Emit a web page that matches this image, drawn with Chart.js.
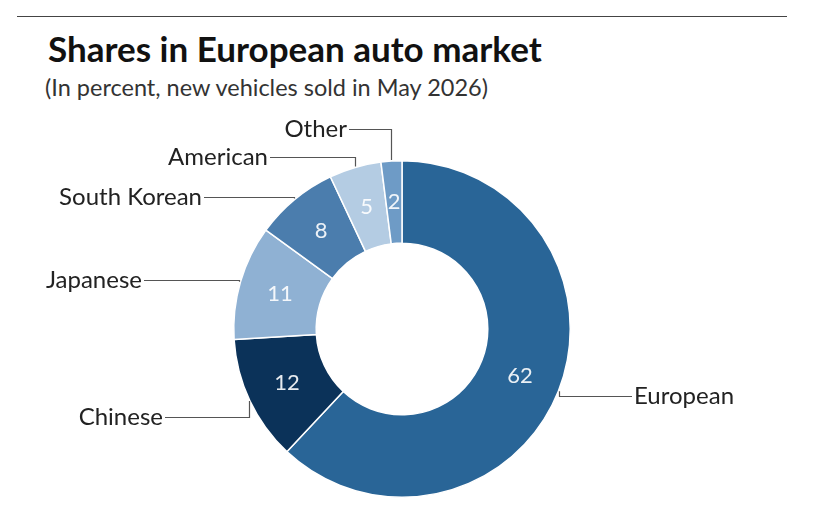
<!DOCTYPE html>
<html>
<head>
<meta charset="utf-8">
<script src="https://cdn.jsdelivr.net/npm/chart.js@4"></script>
<style>
  html, body { margin: 0; padding: 0; background: #fff; }
  body { width: 830px; height: 517px; position: relative; overflow: hidden; font-family: Lato, "Noto Sans", sans-serif; }
  .rule { position: absolute; left: 17px; top: 16px; width: 770px; height: 0; border-top: 1.5px solid #444; }
  h1 { position: absolute; left: 48px; top: 27px; margin: 0; font-size: 35px; font-weight: 700; color: #111; white-space: nowrap; }
  .sub { position: absolute; left: 45px; top: 73px; margin: 0; font-size: 23.5px; color: #333; white-space: nowrap; }
  #wrap { position: absolute; left: 0; top: 0; width: 830px; height: 517px; }
</style>
</head>
<body>
<div class="rule"></div>
<h1>Shares in European auto market</h1>
<div class="sub">(In percent, new vehicles sold in May 2026)</div>
<div id="wrap"><canvas id="donut"></canvas></div>
<script>
var categories = ["European", "Chinese", "Japanese", "South Korean", "American", "Other"];
var shares = [62, 12, 11, 8, 5, 2];
var colors = ["#296597", "#0b3259", "#8fb1d3", "#4b7dad", "#b4cce3", "#6e9bc6"];

// where each outside label sits: text anchor x, middle y, alignment
var labelPos = [
  { x: 634, y: 396, align: "left" },
  { x: 163, y: 417, align: "right" },
  { x: 142, y: 280, align: "right" },
  { x: 202, y: 197, align: "right" },
  { x: 268, y: 157, align: "right" },
  { x: 347, y: 129, align: "right" }
];

var calloutPlugin = {
  id: "callouts",
  afterDatasetsDraw: function (chart) {
    var ctx = chart.ctx;
    var meta = chart.getDatasetMeta(0);
    ctx.save();
    meta.data.forEach(function (arc, i) {
      var p = arc.getProps(["x", "y", "startAngle", "endAngle", "innerRadius", "outerRadius"], true);
      var mid = (p.startAngle + p.endAngle) / 2;
      // value inside ring
      var rMid = (p.innerRadius + p.outerRadius) / 2;
      ctx.fillStyle = "rgba(255,255,255,0.9)";
      ctx.font = "22px Lato, 'Noto Sans', sans-serif";
      ctx.textAlign = "center";
      ctx.textBaseline = "middle";
      ctx.fillText(String(shares[i]), p.x + Math.cos(mid) * rMid, p.y + Math.sin(mid) * rMid);

      // leader line
      var ax = p.x + Math.cos(mid) * (p.outerRadius + 1);
      var ay = p.y + Math.sin(mid) * (p.outerRadius + 1);
      var lp = labelPos[i];
      var endX = lp.align === "left" ? lp.x - 2 : lp.x + 2;
      ctx.strokeStyle = "#555";
      ctx.lineWidth = 1.2;
      ctx.beginPath();
      ctx.moveTo(Math.round(ax) + 0.5, ay);
      ctx.lineTo(Math.round(ax) + 0.5, Math.round(lp.y) + 0.5);
      ctx.lineTo(endX, Math.round(lp.y) + 0.5);
      ctx.stroke();

      ctx.fillStyle = "#222";
      ctx.font = "24px Lato, 'Noto Sans', sans-serif";
      ctx.textAlign = lp.align;
      ctx.textBaseline = "middle";
      ctx.fillText(categories[i], lp.x, lp.y);
    });
    ctx.restore();
  }
};

new Chart(document.getElementById("donut").getContext("2d"), {
  type: "doughnut",
  data: {
    labels: categories,
    datasets: [{
      data: shares,
      backgroundColor: colors,
      borderColor: "#ffffff",
      borderWidth: 1.5,
      hoverOffset: 0
    }]
  },
  options: {
    responsive: true,
    maintainAspectRatio: false,
    animation: false,
    cutout: "51%",
    layout: { padding: { top: 160, bottom: 19, left: 233, right: 259 } },
    plugins: { legend: { display: false }, tooltip: { enabled: false } }
  },
  plugins: [calloutPlugin]
});
</script>
</body>
</html>
